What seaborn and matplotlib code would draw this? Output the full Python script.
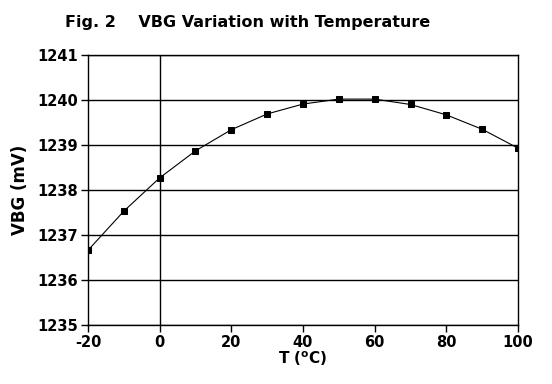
import matplotlib
matplotlib.use("Agg")
import matplotlib.pyplot as plt
import seaborn as sns
import pandas as pd

# datos
temps = [-20, -10, 0, 10, 20, 30, 40, 50, 60, 70, 80, 90, 100]
vbg = [1236.66, 1237.53, 1238.27, 1238.87, 1239.34, 1239.69, 1239.91,
       1240.02, 1240.02, 1239.90, 1239.67, 1239.35, 1238.93]
x_ticks = [-20, 0, 20, 40, 60, 80, 100]
y_ticks = [1235, 1236, 1237, 1238, 1239, 1240, 1241]

df = pd.DataFrame({"T": temps, "VBG": vbg})

sns.set_style("white")
plt.rcParams["font.family"] = ["DejaVu Sans"]
plt.rcParams["font.weight"] = "bold"
plt.rcParams["text.color"] = "black"
plt.rcParams["axes.labelcolor"] = "black"
plt.rcParams["xtick.color"] = "black"
plt.rcParams["ytick.color"] = "black"

fig = plt.figure(figsize=(5.52, 3.84), dpi=100)
ax = fig.add_axes([88 / 552, 1 - 325 / 384, 430 / 552, 270 / 384])

for y in y_ticks:
    ax.axhline(y, color="black", lw=1.0, zorder=1)
ax.axvline(0, color="black", lw=1.0, zorder=1)

sns.lineplot(data=df, x="T", y="VBG", ax=ax, color="black", lw=0.8,
             marker="s", markersize=4.5, markeredgecolor="black", zorder=3)

ax.set_xlim(-20, 100)
ax.set_ylim(1235, 1241)
ax.set_xticks(x_ticks)
ax.set_yticks(y_ticks)
ax.set_xticklabels([str(t) for t in x_ticks], fontsize=10.5, fontweight="bold")
ax.set_yticklabels([str(t) for t in y_ticks], fontsize=10.5, fontweight="bold")
ax.tick_params(direction="out", length=5, width=1, color="black", pad=2,
               bottom=True, left=True)
for s in ax.spines.values():
    s.set_color("black")
    s.set_linewidth(1.0)

ax.set_xlabel("T ($\\mathbf{^o}$C)", fontsize=11, fontweight="bold", labelpad=0)
ax.set_ylabel("VBG (mV)", fontsize=12, fontweight="bold", labelpad=6)

fig.text(248 / 552, 1 - 22 / 384, "Fig. 2    VBG Variation with Temperature",
         ha="center", va="center", fontsize=11.5, fontweight="bold")

fig.savefig("out.png", dpi=100, facecolor="white")
